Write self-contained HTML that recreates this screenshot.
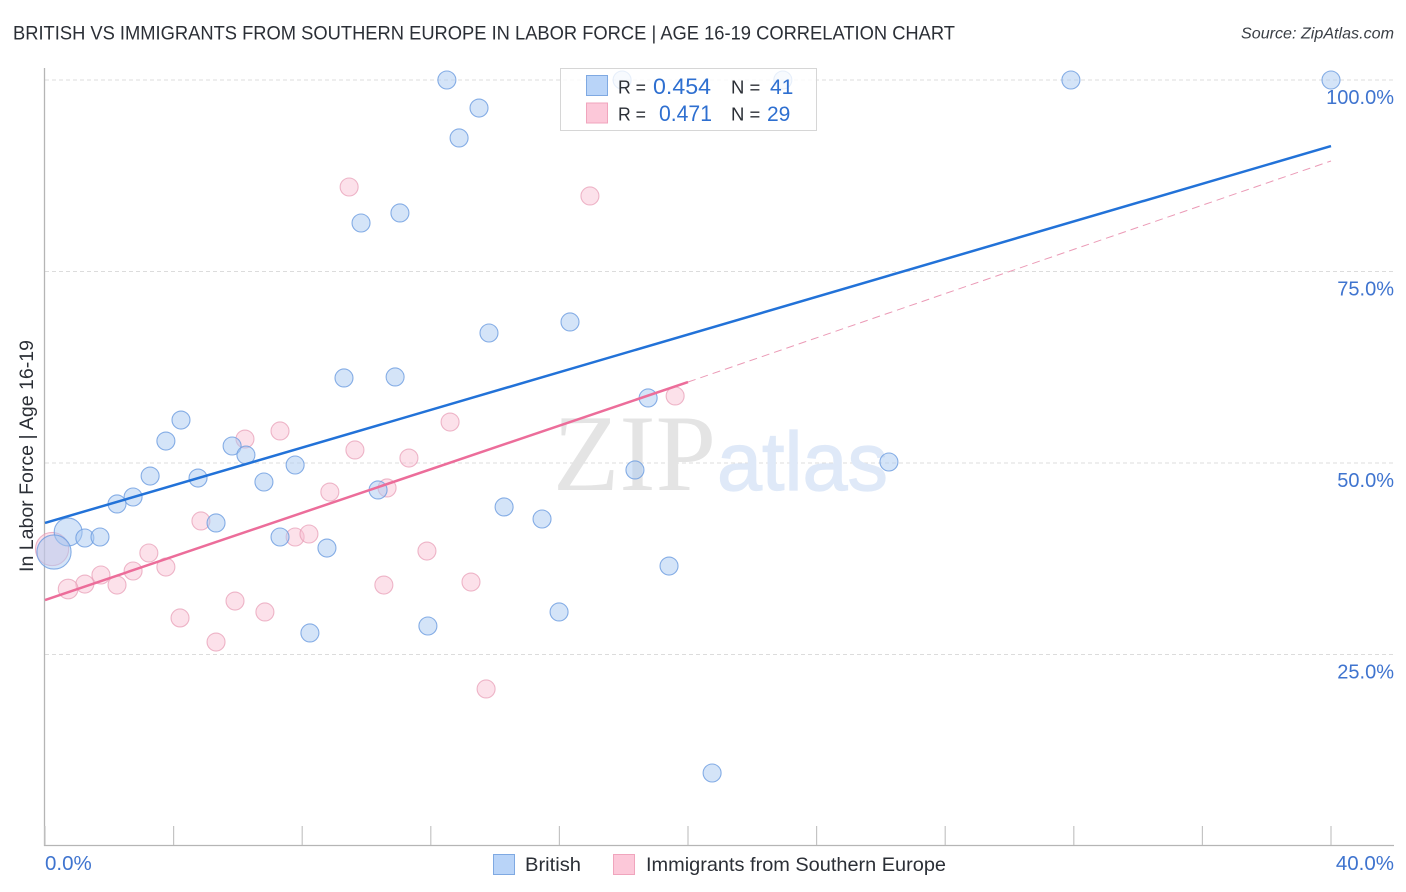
<!DOCTYPE html>
<html lang="en">
<head>
<meta charset="utf-8">
<title>British vs Immigrants from Southern Europe in Labor Force | Age 16-19 Correlation Chart</title>
<style>
html,body{margin:0;padding:0;background:#fff;width:1406px;height:892px;overflow:hidden}
svg{display:block}
text{font-family:"Liberation Sans",sans-serif}
</style>
</head>
<body>
<svg id="chart" width="1406" height="892" viewBox="0 0 1406 892" xmlns="http://www.w3.org/2000/svg">
  <rect x="0" y="0" width="1406" height="892" fill="#fff"/>
  <text x="13" y="39.5" font-size="19.5" fill="#2b2f36" textLength="942" lengthAdjust="spacingAndGlyphs">BRITISH VS IMMIGRANTS FROM SOUTHERN EUROPE IN LABOR FORCE | AGE 16-19 CORRELATION CHART</text>
  <text x="1394" y="38.5" font-size="16" font-style="italic" fill="#3a3f46" text-anchor="end" textLength="153" lengthAdjust="spacingAndGlyphs">Source: ZipAtlas.com</text>
  <g id="grid"></g>
  <g>
    <text x="553" y="490" font-size="109" fill="#e4e4e4" textLength="163" lengthAdjust="spacingAndGlyphs" style="font-family:'Liberation Serif',serif">ZIP</text>
    <text x="717" y="490" font-size="83" fill="#dfe9f8" stroke="#dfe9f8" stroke-width="1.2" textLength="171" lengthAdjust="spacingAndGlyphs">atlas</text>
  </g>
  <g id="axes"></g>
  <g id="pink-points"></g>
  <g id="blue-points"></g>
  <g id="trends"></g>
  <g id="tick-labels"></g>
  <text transform="translate(33,456) rotate(-90)" font-size="19.5" fill="#2b2f36" text-anchor="middle" textLength="232" lengthAdjust="spacingAndGlyphs">In Labor Force | Age 16-19</text>
  <g>
    <rect x="560.5" y="68.5" width="256" height="62" fill="#fff" fill-opacity="0.8" stroke="#d6d6d6"/>
    <rect x="586.5" y="75.5" width="21" height="20" fill="#b9d4f8" stroke="#7fa9e2"/>
    <rect x="586.5" y="103" width="21" height="20" fill="#fcc8d9" stroke="#f0a5bd"/>
    <text x="618" y="93.5" font-size="18.5" fill="#2b2f36" textLength="28" lengthAdjust="spacingAndGlyphs">R =</text>
    <text x="653" y="94" font-size="22" fill="#2e6fd0" textLength="58" lengthAdjust="spacingAndGlyphs">0.454</text>
    <text x="731" y="93.5" font-size="18.5" fill="#2b2f36">N =</text>
    <text x="770" y="94" font-size="21" fill="#2e6fd0">41</text>
    <text x="618" y="120.5" font-size="18.5" fill="#2b2f36" textLength="28" lengthAdjust="spacingAndGlyphs">R =</text>
    <text x="659" y="121" font-size="22" fill="#2e6fd0" textLength="53" lengthAdjust="spacingAndGlyphs">0.471</text>
    <text x="731" y="120.5" font-size="18.5" fill="#2b2f36">N =</text>
    <text x="767" y="121" font-size="21" fill="#2e6fd0">29</text>
  </g>
  <g>
    <rect x="493.5" y="854.5" width="21" height="20" fill="#b9d4f8" stroke="#7fa9e2"/>
    <text x="525" y="871" font-size="19.5" fill="#2b2f36" textLength="56" lengthAdjust="spacingAndGlyphs">British</text>
    <rect x="613.5" y="854.5" width="21" height="20" fill="#fcc8d9" stroke="#f0a5bd"/>
    <text x="646" y="871" font-size="19.5" fill="#2b2f36" textLength="300" lengthAdjust="spacingAndGlyphs">Immigrants from Southern Europe</text>
  </g>
</svg>
<script>
const britishX = [12.50,17.95,22.95,31.91,40.00,13.50,12.88,11.04,9.83,16.33,13.81,9.30,10.89,18.76,4.23,3.76,5.82,6.25,7.78,3.27,4.76,6.81,18.35,26.25,10.36,2.74,2.24,14.28,5.32,15.46,0.72,1.24,1.71,7.31,8.77,0.28,19.41,15.99,8.24,11.91,20.75];
const britishY = [100,100,100,100,100,96.34,92.43,82.64,81.33,68.41,66.97,61.10,61.23,58.49,55.61,52.87,52.22,51.04,49.74,48.30,48.04,47.52,49.09,50.13,46.48,45.56,44.65,44.26,42.17,42.69,40.99,40.21,40.34,40.34,38.90,38.38,36.55,30.55,27.81,28.72,9.53];
const britishWeight = [1,1,1,1,1,1,1,1,1,1,1,1,1,1,1,1,1,1,1,1,1,1,1,1,1,1,1,1,1,1,2.4,1,1,1,1,3.6,1,1,1,1,1];
const immigrantX = [9.46,16.95,19.60,12.60,7.31,6.22,9.64,11.32,8.86,10.64,4.85,7.78,8.21,3.23,11.88,3.76,2.74,1.74,13.25,2.24,1.24,0.72,10.54,5.91,6.84,4.20,5.32,13.72,0.22];
const immigrantY = [86.03,84.86,58.75,55.35,54.18,53.13,51.70,50.65,46.21,46.74,42.43,40.34,40.73,38.25,38.51,36.42,35.90,35.38,34.46,34.07,34.20,33.55,34.07,31.98,30.55,29.77,26.63,20.50,38.77];
const immigrantWeight = [1,1,1,1,1,1,1,1,1,1,1,1,1,1,1,1,1,1,1,1,1,1.2,1,1,1,1,1,1,3.4];
const xTickValues = [0,4,8,12,16,20,24,28,32,36,40];
const yTickValues = [100,75,50,25];
const yTickLabels = ["100.0%","75.0%","50.0%","25.0%"];
const xEndLabels = ["0.0%","40.0%"];
const xEndValues = [0,40];
const britishTrendX = [0,40];
const britishTrendY = [42.17,91.38];
const immigrantTrendX = [0,20];
const immigrantTrendY = [32.11,60.57];
const immigrantDashX = [20,40];
const immigrantDashY = [60.57,89.43];

const NS = "http://www.w3.org/2000/svg";
const xScale = v => 45 + v * 32.15;
const yScale = v => 80 + (100 - v) * 7.66;
const radius = w => 9 * Math.sqrt(w);

function make(tag, attrs, parent) {
  const el = document.createElementNS(NS, tag);
  for (const k in attrs) el.setAttribute(k, attrs[k]);
  parent.appendChild(el);
  return el;
}

const grid = document.getElementById("grid");
const axes = document.getElementById("axes");
const labels = document.getElementById("tick-labels");

yTickValues.forEach(v => {
  const el = make("line", {x1: 45, x2: 1394, y1: yScale(v), y2: yScale(v), stroke: "#dcdcdc", "stroke-width": 1, "stroke-dasharray": "4 3"}, grid);
  
  
});

const yAxis = make("line", {x1: 44.5, x2: 44.5, y1: 68, y2: 846, stroke: "#b5b5b5", "stroke-width": 1.3}, axes);


const xAxis = make("line", {x1: 44, x2: 1394, y1: 845.5, y2: 845.5, stroke: "#b5b5b5", "stroke-width": 1.3}, axes);



xTickValues.forEach(v => {
  const el = make("line", {x1: xScale(v), x2: xScale(v), y1: 826, y2: 845, stroke: "#c4c4c4", "stroke-width": 1.2}, axes);
  
  
});

yTickValues.forEach((v, i) => {
  const el = make("text", {x: 1394, y: yScale(v) + 24, "font-size": 20, fill: "#3f74cf", "text-anchor": "end"}, labels);
  
  
  el.textContent = yTickLabels[i];
});

xEndValues.forEach((v, i) => {
  const el = make("text", {x: i === 0 ? xScale(v) : 1394, y: 870, "font-size": 20.5, fill: "#3f74cf", "text-anchor": i === 0 ? "start" : "end"}, labels);
  
  
  el.textContent = xEndLabels[i];
});

const pinkGroup = document.getElementById("pink-points");
immigrantX.forEach((v, i) => {
  const el = make("circle", {cx: xScale(v), cy: yScale(immigrantY[i]), r: radius(immigrantWeight[i]), fill: "#f9bcd0", "fill-opacity": 0.45, stroke: "#e79ab4", "stroke-opacity": 0.7, "stroke-width": 1.1}, pinkGroup);
  
  
});

const blueGroup = document.getElementById("blue-points");
britishX.forEach((v, i) => {
  const el = make("circle", {cx: xScale(v), cy: yScale(britishY[i]), r: radius(britishWeight[i]), fill: "#a9c9f2", "fill-opacity": 0.5, stroke: "#6a9be0", "stroke-opacity": 0.8, "stroke-width": 1.1}, blueGroup);
  
  
});

const trends = document.getElementById("trends");
const blueTrend = make("line", {x1: xScale(britishTrendX[0]), y1: yScale(britishTrendY[0]), x2: xScale(britishTrendX[1]), y2: yScale(britishTrendY[1]), stroke: "#2272d8", "stroke-width": 2.5}, trends);


const pinkTrend = make("line", {x1: xScale(immigrantTrendX[0]), y1: yScale(immigrantTrendY[0]), x2: xScale(immigrantTrendX[1]), y2: yScale(immigrantTrendY[1]), stroke: "#ec6d9a", "stroke-width": 2.5}, trends);


const pinkDash = make("line", {x1: xScale(immigrantDashX[0]), y1: yScale(immigrantDashY[0]), x2: xScale(immigrantDashX[1]), y2: yScale(immigrantDashY[1]), stroke: "#eb9ab6", "stroke-width": 1, "stroke-dasharray": "8 5"}, trends);


</script>
</body>
</html>
